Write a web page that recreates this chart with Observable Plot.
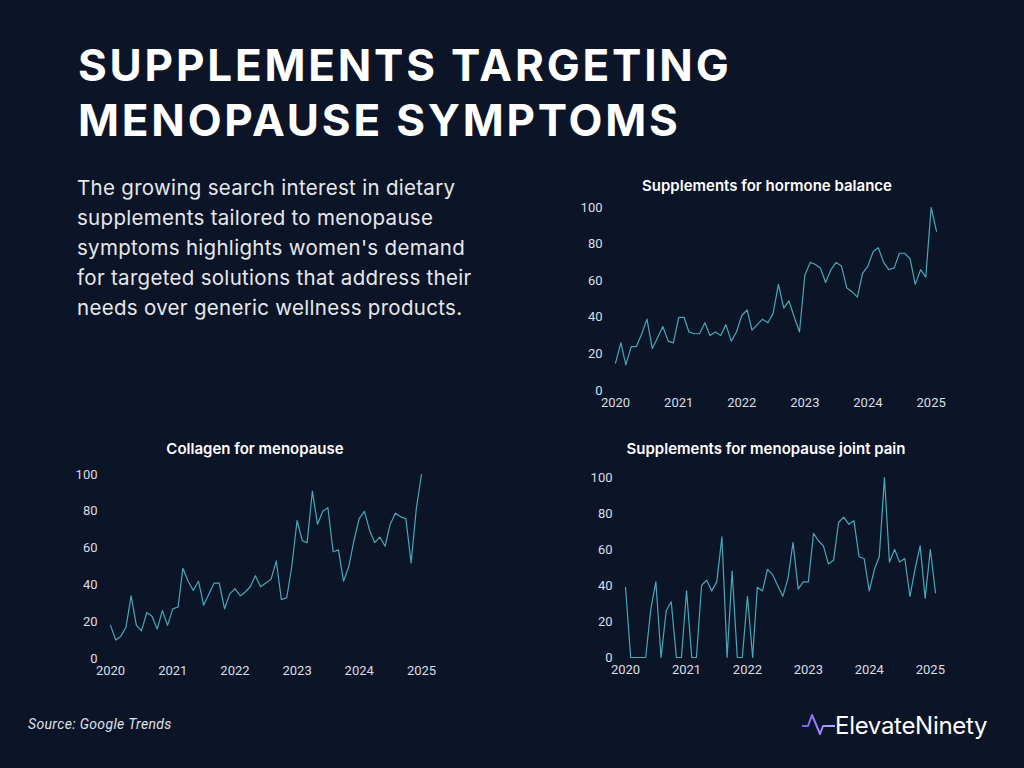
<!DOCTYPE html>
<html>
<head>
<meta charset="utf-8">
<script src="https://cdn.jsdelivr.net/npm/d3@7"></script>
<script src="https://cdn.jsdelivr.net/npm/@observablehq/plot@0.6"></script>
<style>
  html, body { margin: 0; padding: 0; }
  body { width: 1024px; height: 768px; background: #0c1427; position: relative; overflow: hidden; font-family: Inter, "Noto Sans", sans-serif; }
  .abs { position: absolute; }
  #title { left: 78px; top: 38px; color: #ffffff; font-family: Inter, sans-serif; font-weight: 700; font-size: 44px; line-height: 55px; letter-spacing: 2.8px; white-space: nowrap; }
  #sub { left: 77px; top: 173px; color: #e6e8ec; font-family: Inter, sans-serif; font-size: 20.5px; line-height: 30px; letter-spacing: 0.3px; white-space: nowrap; }
  .ctitle { color: #ffffff; font-family: Inter, sans-serif; font-weight: 600; font-size: 15px; white-space: nowrap; transform: translateX(-50%); }
  #source { left: 28px; top: 716px; color: #dfe2e8; font-family: Roboto, sans-serif; font-style: italic; font-size: 14px; letter-spacing: 0.35px; }
  #logo { left: 800px; top: 710px; }
  #logotext { left: 835px; top: 711px; color: #ffffff; font-family: Inter, sans-serif; font-size: 24px; letter-spacing: -0.3px; }
</style>
</head>
<body>
<div id="title" class="abs">SUPPLEMENTS TARGETING<br>MENOPAUSE SYMPTOMS</div>
<div id="sub" class="abs">The growing search interest in dietary<br>supplements tailored to menopause<br>symptoms highlights women's demand<br>for targeted solutions that address their<br>needs over generic wellness products.</div>
<div id="t1" class="abs ctitle" style="left:767px; top:176px;">Supplements for hormone balance</div>
<div id="t2" class="abs ctitle" style="left:255px; top:439px;">Collagen for menopause</div>
<div id="t3" class="abs ctitle" style="left:766px; top:439px;">Supplements for menopause joint pain</div>
<div id="c1" class="abs" style="left:560px; top:195px;"></div>
<div id="c2" class="abs" style="left:50px; top:462px;"></div>
<div id="c3" class="abs" style="left:560px; top:465px;"></div>
<div id="source" class="abs">Source: Google Trends</div>
<svg id="logo" class="abs" width="40" height="34" viewBox="0 0 40 34">
  <defs><linearGradient id="lg" x1="0" x2="1"><stop offset="0" stop-color="#7c5cf0"/><stop offset="1" stop-color="#b9a8ff"/></linearGradient></defs>
  <polyline points="2,16 8,16 12,5 20,24 23,16 35,16" fill="none" stroke="url(#lg)" stroke-width="2" stroke-linejoin="round"/>
</svg>
<div id="logotext" class="abs">ElevateNinety</div>
<script>
// Monthly Google Trends index, starting January 2020
const startMonth = "2020-01-01";
const yTicks = [0, 20, 40, 60, 80, 100];
const yearTicks = ["2020", "2021", "2022", "2023", "2024", "2025"];

// Supplements for hormone balance (Jan 2020 – Feb 2025)
const hormoneBalance = [15, 26, 14, 24, 24, 31, 39, 23, 29, 35, 27, 26,
  40, 40, 32, 31, 31, 37, 30, 32, 30, 36, 27, 32,
  41, 44, 33, 36, 39, 37, 42, 58, 45, 49, 40, 32,
  63, 70, 69, 67, 59, 66, 70, 68, 56, 54, 51, 64,
  68, 76, 78, 70, 66, 67, 75, 75, 72, 58, 66, 62,
  100, 87];

// Collagen for menopause (Jan 2020 – Jan 2025)
const collagen = [18, 10, 12, 17, 34, 18, 15, 25, 23, 16, 26, 18,
  27, 28, 49, 42, 37, 42, 29, 35, 41, 41, 27, 35,
  38, 34, 36, 39, 45, 39, 41, 43, 53, 32, 33, 50,
  75, 64, 63, 91, 73, 80, 82, 58, 59, 42, 50, 64,
  76, 80, 70, 63, 66, 61, 73, 79, 77, 76, 52, 81,
  100];

// Supplements for menopause joint pain (Jan 2020 – Feb 2025)
const jointPain = [39, 0, 0, 0, 0, 27, 42, 0, 26, 31, 0, 0,
  37, 0, 0, 40, 43, 37, 42, 67, 0, 48, 0, 0,
  34, 0, 39, 37, 49, 46, 40, 34, 44, 64, 38, 42,
  42, 69, 65, 62, 52, 54, 75, 78, 74, 76, 56, 55,
  37, 49, 56, 100, 53, 60, 53, 55, 34, 49, 62, 33,
  60, 36];

function toRows(values) {
  const start = new Date(startMonth);
  return values.map((v, i) => ({date: d3.utcMonth.offset(start, i), value: v}));
}

function chart(el, values, o) {
  const rows = toRows(values);
  const p = Plot.plot({
    width: o.width, height: o.height,
    marginLeft: o.ml, marginRight: o.mr, marginTop: o.mt, marginBottom: o.mb,
    style: {background: "transparent", color: "#d9dee6", fontFamily: "Roboto, sans-serif", fontSize: "13px"},
    x: {type: "utc", domain: d3.extent(rows, d => d.date)},
    y: {domain: [0, 100]},
    marks: [
      Plot.axisX({ticks: yearTicks.map(y => new Date(y + "-01-01")), tickFormat: d3.utcFormat("%Y"), tickSize: 0, tickPadding: 7, label: null, fontSize: 13}),
      Plot.axisY({ticks: yTicks, tickSize: 0, tickPadding: 13, label: null, fontSize: 13}),
      Plot.lineY(rows, {x: "date", y: "value", stroke: "#45a9b6", strokeWidth: 1.2})
    ]
  });
  document.getElementById(el).appendChild(p);
}

chart("c1", hormoneBalance, {width: 400, height: 225, ml: 55, mr: 24, mt: 12, mb: 30});
chart("c2", collagen, {width: 400, height: 226, ml: 60, mr: 29, mt: 12, mb: 30});
chart("c3", jointPain, {width: 400, height: 222, ml: 65, mr: 25, mt: 12, mb: 30});
</script>
</body>
</html>
